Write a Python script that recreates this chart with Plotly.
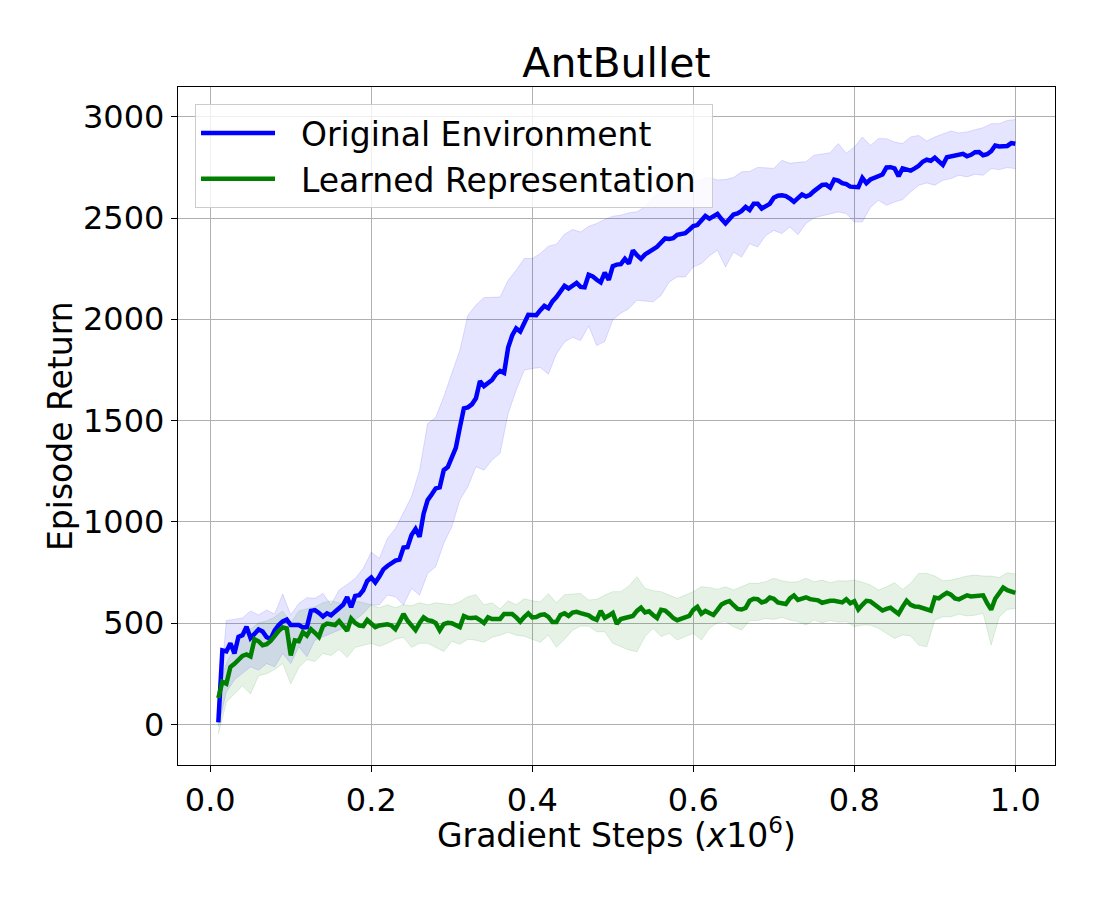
import numpy as np
import plotly.graph_objects as go

# x grid of the mean curves (gradient steps, x1e6) and of the shaded bands
steps_mean = np.round(0.01 + 0.005 * np.arange(199), 3)
steps_band = np.round(0.01 + 0.01 * np.arange(100), 2)

blue_mean = [
    10, 365, 360, 400, 350, 432, 440, 482, 426, 447,
    468, 458, 430, 422, 463, 490, 508, 517, 490, 490,
    490, 478, 480, 560, 564, 550, 532, 548, 538, 556,
    570, 590, 628, 578, 634, 638, 662, 708, 725, 700,
    730, 765, 782, 795, 808, 813, 873, 875, 935, 965,
    926, 1040, 1107, 1135, 1165, 1170, 1255, 1270, 1315, 1365,
    1465, 1560, 1565, 1580, 1610, 1695, 1670, 1685, 1700, 1730,
    1745, 1735, 1860, 1920, 1955, 1940, 1985, 2022, 2021, 2020,
    2045, 2066, 2055, 2088, 2110, 2135, 2165, 2152, 2168, 2180,
    2160, 2158, 2220, 2212, 2195, 2182, 2230, 2195, 2262, 2270,
    2272, 2298, 2275, 2340, 2316, 2298, 2320, 2330, 2345, 2358,
    2380, 2399, 2396, 2400, 2417, 2420, 2425, 2442, 2460, 2465,
    2490, 2510, 2497, 2508, 2520, 2495, 2473, 2495, 2517, 2523,
    2535, 2555, 2540, 2570, 2570, 2547, 2560, 2570, 2600, 2610,
    2612, 2608, 2596, 2580, 2598, 2616, 2606, 2615, 2633, 2650,
    2663, 2665, 2650, 2690, 2685, 2672, 2668, 2655, 2654, 2652,
    2698, 2672, 2690, 2700, 2706, 2715, 2750, 2751, 2745, 2707,
    2745, 2742, 2734, 2745, 2758, 2778, 2788, 2783, 2798, 2780,
    2762, 2800, 2805, 2805, 2812, 2817, 2805, 2812, 2825, 2826,
    2810, 2815, 2830, 2858, 2853, 2852, 2856, 2870, 2867,
]

green_mean = [
    130, 210, 200, 283, 299, 320, 338, 345, 335, 420,
    410, 390, 395, 412, 440, 462, 478, 474, 340, 414,
    410, 455, 438, 470, 452, 432, 485, 497, 494, 490,
    510, 485, 462, 522, 500, 488, 485, 515, 500, 480,
    488, 492, 494, 488, 470, 505, 545, 512, 485, 465,
    500, 528, 514, 510, 500, 464, 495, 501, 499, 490,
    480, 535, 526, 525, 527, 515, 500, 528, 520, 520,
    520, 545, 547, 545, 528, 507, 530, 548, 528, 530,
    540, 543, 530, 505, 505, 540, 548, 535, 552, 555,
    549, 544, 538, 524, 516, 560, 525, 537, 550, 496,
    520, 525, 529, 535, 560, 576, 552, 558, 540, 525,
    566, 562, 545, 525, 514, 520, 526, 535, 565, 580,
    546, 560, 550, 540, 565, 592, 602, 608, 588, 570,
    567, 575, 610, 620, 618, 602, 608, 626, 620, 602,
    598, 594, 622, 636, 614, 620, 627, 618, 616, 612,
    600, 607, 610, 610, 607, 602, 618, 598, 608, 567,
    590, 610, 607, 592, 575, 562, 570, 576, 560, 545,
    580, 610, 590, 582, 580, 575, 570, 561, 626, 622,
    637, 649, 640, 622, 617, 628, 637, 631, 632, 636,
    637, 598, 566, 620, 650, 675, 662, 655, 649,
]

blue_lo = [
    -10, 160, 220, 250, 284, 268, 300, 284, 350, 300,
    383, 334, 416, 432, 449, 465, 482, 515, 547, 590,
    589, 638, 630, 589, 671, 638, 745, 778, 893, 975,
    1107, 1173, 1272, 1255, 1305, 1338, 1535, 1650, 1749, 1757,
    1762, 1729, 1829, 1888, 1911, 1895, 1967, 1870, 1890, 1998,
    2030, 2053, 2094, 2090, 2086, 2118, 2184, 2209, 2209, 2259,
    2275, 2313, 2341, 2258, 2332, 2307, 2373, 2357, 2414, 2439,
    2423, 2456, 2418, 2473, 2501, 2511, 2519, 2530, 2522, 2480,
    2481, 2552, 2588, 2563, 2579, 2591, 2629, 2662, 2673, 2662,
    2686, 2695, 2711, 2703, 2716, 2711, 2744, 2739, 2749, 2744,
]

blue_hi = [
    60, 513, 518, 525, 560, 540, 564, 545, 643, 540,
    597, 625, 622, 646, 590, 663, 690, 720, 770, 850,
    819, 918, 967, 1042, 1124, 1255, 1485, 1515, 1617, 1732,
    1847, 2020, 2070, 2107, 2107, 2110, 2193, 2242, 2300, 2300,
    2325, 2361, 2371, 2420, 2443, 2431, 2459, 2473, 2493, 2509,
    2514, 2526, 2531, 2555, 2601, 2624, 2645, 2658, 2653, 2678,
    2690, 2700, 2688, 2690, 2700, 2728, 2730, 2750, 2748, 2745,
    2785, 2770, 2775, 2778, 2810, 2815, 2822, 2868, 2820, 2850,
    2900, 2858, 2892, 2892, 2875, 2868, 2900, 2908, 2880, 2900,
    2917, 2930, 2920, 2925, 2936, 2946, 2966, 2966, 2982, 2986,
]

green_lo = [
    -50, 110, 150, 190, 150, 240, 250, 270, 300, 200,
    280, 320, 310, 350, 340, 370, 330, 380, 390, 400,
    385, 400, 420, 430, 380, 400, 400, 380, 360, 410,
    395, 420, 415, 405, 430, 440, 455, 440, 435, 420,
    405, 440, 380, 420, 465, 485, 485, 457, 457, 400,
    383, 367, 358, 433, 474, 433, 449, 416, 433, 449,
    416, 474, 502, 507, 482, 465, 512, 512, 523, 518,
    528, 515, 507, 490, 515, 502, 512, 505, 507, 482,
    490, 490, 474, 449, 424, 441, 436, 391, 383, 515,
    531, 531, 544, 535, 539, 548, 391, 531, 567, 572,
]

green_hi = [
    180, 300, 380, 440, 470, 500, 510, 530, 560, 500,
    560, 570, 580, 600, 610, 600, 590, 610, 600, 590,
    575, 590, 575, 590, 585, 600, 590, 600, 595, 590,
    605, 630, 640, 590, 600, 570, 610, 590, 620, 610,
    605, 645, 600, 640, 643, 646, 614, 617, 638, 655,
    655, 683, 729, 671, 660, 655, 638, 622, 638, 655,
    679, 676, 666, 679, 663, 679, 696, 696, 704, 721,
    709, 702, 704, 721, 704, 712, 699, 709, 707, 712,
    702, 688, 663, 679, 699, 666, 696, 745, 745, 732,
    709, 712, 721, 732, 737, 732, 732, 725, 748, 742,
]

x_ticks = [0.0, 0.2, 0.4, 0.6, 0.8, 1.0]
x_tick_labels = ["0.0", "0.2", "0.4", "0.6", "0.8", "1.0"]
y_ticks = [0, 500, 1000, 1500, 2000, 2500, 3000]

NB = "\u00a0"
series = [
    ("Original Environment", blue_mean, blue_lo, blue_hi, "#0000ff", "rgba(0,0,255,0.10)", "rgba(0,0,255,0.12)"),
    ("Learned Representation", green_mean, green_lo, green_hi, "#008000", "rgba(0,128,0,0.10)", "rgba(0,128,0,0.12)"),
]

FONT = "DejaVu Sans"
fig = go.Figure()

for name, mean, lo, hi, col, fillc, edgec in series:
    fig.add_trace(go.Scatter(x=steps_band, y=lo, mode="lines",
                             line=dict(color=edgec, width=1),
                             showlegend=False, hoverinfo="skip"))
    fig.add_trace(go.Scatter(x=steps_band, y=hi, mode="lines",
                             line=dict(color=edgec, width=1),
                             fill="tonexty", fillcolor=fillc,
                             showlegend=False, hoverinfo="skip"))

for i, (name, mean, lo, hi, col, fillc, edgec) in enumerate(series):
    fig.add_trace(go.Scatter(x=steps_mean, y=mean, mode="lines",
                             name=NB + NB + name + NB,
                             legendgroup="g%d" % i,
                             line=dict(color=col, width=4.5)))

axis_common = dict(
    showline=True, linecolor="black", linewidth=1.3, mirror=True,
    ticks="outside", ticklen=6, tickwidth=1.3, tickcolor="black",
    showgrid=True, gridcolor="#b0b0b0", gridwidth=1,
    zeroline=False, tickfont=dict(family=FONT, size=32, color="black"),
    automargin=False,
)

fig.update_layout(
    width=1100, height=900,
    margin=dict(l=170, r=53, t=79, b=143),
    plot_bgcolor="white", paper_bgcolor="white",
    font=dict(family=FONT, color="black"),
    title=dict(text="AntBullet", font=dict(family=FONT, size=41, color="black"),
               x=0.5, xref="paper", xanchor="center",
               y=1 - 55 / 900, yref="container", yanchor="middle"),
    xaxis=dict(range=[-0.0401, 1.0493], tickvals=x_ticks, ticktext=x_tick_labels,
               **axis_common),
    yaxis=dict(range=[-201, 3147], tickvals=y_ticks, **axis_common),
    legend=dict(x=0.0194, y=0.975, xanchor="left", yanchor="top",
                bgcolor="rgba(255,255,255,0.8)", bordercolor="#cccccc", borderwidth=1,
                font=dict(family=FONT, size=33, color="black"),
                itemwidth=74, traceorder="normal", tracegroupgap=4),
    showlegend=True,
    annotations=[
        dict(text="Gradient Steps (<i>x</i>10<sup>6</sup>)", xref="paper", yref="paper",
             x=0.5, y=-0.1005, xanchor="center", yanchor="middle", showarrow=False,
             font=dict(family=FONT, size=33, color="black")),
        dict(text="Episode Return", xref="paper", yref="paper",
             x=-0.1345, y=0.5, xanchor="center", yanchor="middle", showarrow=False,
             textangle=-90, font=dict(family=FONT, size=33, color="black")),
    ],
)

fig.write_html("out.html")
